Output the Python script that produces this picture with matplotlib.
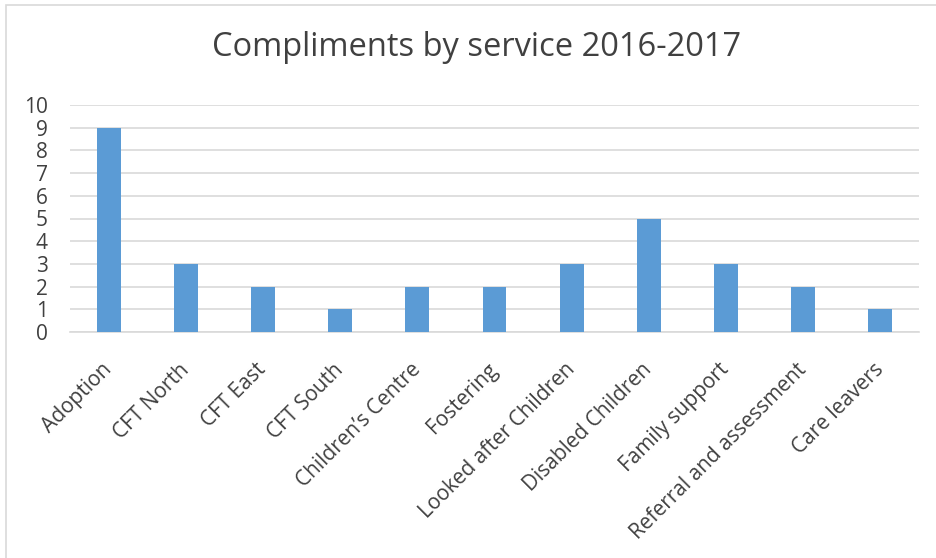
import matplotlib
matplotlib.use("Agg")
import matplotlib.pyplot as plt
from matplotlib.patches import Rectangle

categories = ["Adoption", "CFT North", "CFT East", "CFT South", "Children\u2019s Centre",
              "Fostering", "Looked after Children", "Disabled Children", "Family support",
              "Referral and assessment", "Care leavers"]
values = [9, 3, 2, 1, 2, 2, 3, 5, 3, 2, 1]
yticks = list(range(0, 11))
title = "Compliments by service 2016-2017"

plt.rcParams['font.family'] = ['Open Sans', 'DejaVu Sans']

W, H = 936, 558
fig = plt.figure(figsize=(W/100, H/100), dpi=100)
fig.patches.append(Rectangle((6/W, -0.1), 1.2, (H-5)/H + 0.1, transform=fig.transFigure,
                             fill=False, edgecolor='#D9D9D9', linewidth=1.2))

left, right = 70, 919
top, bottom = 105, 332
ax = fig.add_axes([left/W, 1 - bottom/H, (right-left)/W, (bottom-top)/H])
x = list(range(len(categories)))
ax.bar(x, values, width=0.31, color='#5B9BD5', zorder=3)
ax.set_xlim(-0.5, len(categories) - 0.5)
ax.set_ylim(0, 10)
ax.set_yticks(yticks)
ax.set_yticklabels([str(v) for v in yticks], fontsize=15, color='#404040')
ax.set_xticks(x)
ax.set_xticklabels(categories, rotation=45, ha='right', va='center', rotation_mode='anchor',
                   fontsize=15, color='#404040')
ax.tick_params(axis='both', length=0)
ax.tick_params(axis='y', pad=16)
ax.tick_params(axis='x', pad=25)
ax.grid(axis='y', color='#D9D9D9', linewidth=1.2, zorder=0)
for s in ['top', 'right', 'left']:
    ax.spines[s].set_visible(False)
ax.spines['bottom'].set_color('#D9D9D9')
ax.spines['bottom'].set_linewidth(1.2)

fig.text(477/W, 1 - 47/H, title, ha='center', va='center', fontsize=23.5, color='#404040')

fig.savefig("out.png", dpi=100)
